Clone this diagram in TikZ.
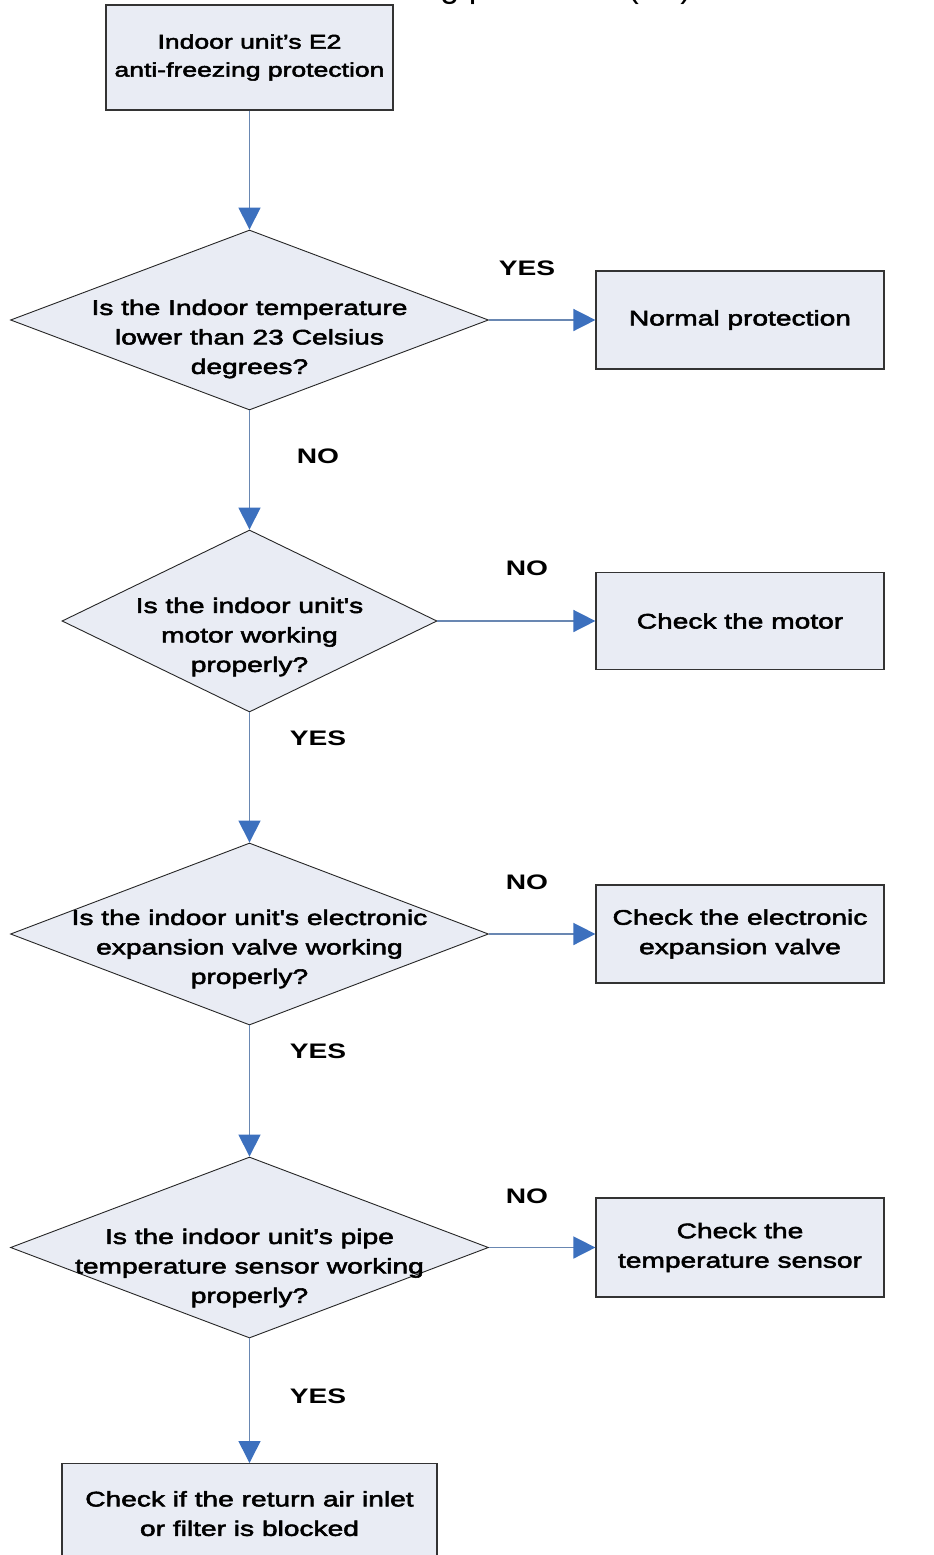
\documentclass[tikz,border=0pt]{standalone}
\usepackage{fontspec}
\setmainfont{Liberation Sans}
\newfontface\df[FakeStretch=1.34,FakeBold=2.6]{Liberation Sans}
\newfontface\dfb[FakeStretch=1.34]{Liberation Sans Bold}
\usetikzlibrary{arrows.meta,shapes.geometric}
\definecolor{boxfill}{RGB}{233,236,244}
\definecolor{lineblue}{RGB}{105,135,178}
\definecolor{headblue}{RGB}{60,112,190}
\tikzset{
  box/.style={draw=black!80, line width=1.2pt, fill=boxfill, inner sep=0pt,
    font=\df\fontsize{21}{29.5}\selectfont, align=center},
  dia/.style={diamond, draw=black!85, line width=0.9pt, fill=boxfill, inner sep=0pt},
  dtext/.style={font=\df\fontsize{21}{29.5}\selectfont, align=center},
  lbl/.style={font=\dfb\fontsize{21}{29}\selectfont},
  flow/.style={draw=lineblue, line width=1.5pt,
    -{Triangle[length=22pt,width=22pt,color=headblue]}},
}
\begin{document}
\begin{tikzpicture}[x=1pt,y=-1pt]
\useasboundingbox (0,0) rectangle (934,1555);
\clip (0,0) rectangle (934,1555);
\fill[white] (0,0) rectangle (934,1555);

% cut-off title
\node[anchor=base east, inner sep=0pt, font=\fontsize{34}{40}\selectfont] (title) at (692,-2) {Anti-freezing protection (E2)};

% start box
\node[box, minimum width=287pt, minimum height=105pt, font=\df\fontsize{19.8}{28}\selectfont] (start) at (249.5,57.5)
  {Indoor unit’s E2\\anti-freezing protection};

% decisions
\node[dia, minimum width=478pt, minimum height=180pt] (q1) at (249.5,320) {};
\node[dtext] (t1) at (249.5,339) {Is the Indoor temperature\\lower than 23 Celsius\\degrees?};
\node[dia, minimum width=375pt, minimum height=182pt] (q2) at (249.5,621) {};
\node[dtext] (t2) at (249.5,637) {Is the indoor unit\char"0027 s\\motor working\\properly?};
\node[dia, minimum width=478pt, minimum height=182pt] (q3) at (249.5,934) {};
\node[dtext] (t3) at (249.5,949) {Is the indoor unit\char"0027 s electronic\\expansion valve working\\properly?};
\node[dia, minimum width=478pt, minimum height=181pt] (q4) at (249.5,1247.5) {};
\node[dtext] (t4) at (249.5,1268) {Is the indoor unit’s pipe\\temperature sensor working\\properly?};

% result boxes
\node[box, minimum width=288pt, minimum height=98pt] (r1) at (740,320) {Normal protection};
\node[box, minimum width=288pt, minimum height=97pt] (r2) at (740,621) {Check the motor};
\node[box, minimum width=288pt, minimum height=98pt] (r3) at (740,934) {Check the electronic\\expansion valve};
\node[box, minimum width=288pt, minimum height=99pt] (r4) at (740,1247.5) {Check the\\temperature sensor};
\node[box, minimum width=375pt, minimum height=100pt, anchor=north] (end) at (249.5,1463)
  {Check if the return air inlet\\or filter is blocked};

% connectors
\draw[flow] (start.south) -- (q1.north);
\draw[flow] (q1.south) -- (q2.north);
\draw[flow] (q2.south) -- (q3.north);
\draw[flow] (q3.south) -- (q4.north);
\draw[flow] (q4.south) -- (end.north);
\draw[flow] (q1.east) -- (r1.west);
\draw[flow] (q2.east) -- (r2.west);
\draw[flow] (q3.east) -- (r3.west);
\draw[flow] (q4.east) -- (r4.west);

% labels
\node[lbl] (l1) at (527,268) {YES};
\node[lbl] (l2) at (318,456) {NO};
\node[lbl] (l3) at (527,568) {NO};
\node[lbl] (l4) at (318,738) {YES};
\node[lbl] (l5) at (527,882) {NO};
\node[lbl] (l6) at (318,1051) {YES};
\node[lbl] (l7) at (527,1196) {NO};
\node[lbl] (l8) at (318,1396) {YES};
\end{tikzpicture}
\end{document}
